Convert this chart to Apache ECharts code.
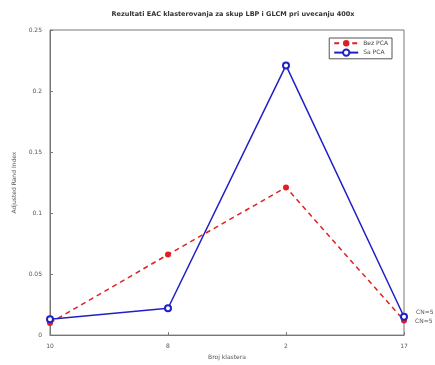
<!DOCTYPE html>
<html>
<head>
<meta charset="utf-8">
<script src="https://cdn.jsdelivr.net/npm/echarts@6/dist/echarts.min.js"></script>
<style>
  html, body { margin: 0; padding: 0; background: #fff; }
  #main { width: 435px; height: 365px; }
</style>
</head>
<body>
<div id="main"></div>
<script>
var categories = ["10", "8", "2", "17"];
var bezPCA = [0.010, 0.066, 0.121, 0.012];
var saPCA = [0.013, 0.022, 0.221, 0.015];
var endLabels = ["CN=5", "CN=5"];

var chartDom = document.getElementById("main");
var myChart = echarts.init(chartDom);
var option;

var axisText = { color: "#555", fontSize: 6, fontFamily: "DejaVu Sans" };

function withEndLabel(values, text, offsetY) {
  return values.map(function (v, i) {
    if (i !== values.length - 1) return v;
    return {
      value: v,
      label: {
        show: true,
        position: "right",
        distance: 8,
        offset: [0, offsetY],
        formatter: text,
        color: "#555",
        fontSize: 6,
        fontFamily: "DejaVu Sans",
      },
    };
  });
}

option = {
  animation: false,
  backgroundColor: "#fff",
  title: {
    text: "Rezultati EAC klasterovanja za skup LBP i GLCM pri uvecanju 400x",
    left: 228,
    textAlign: "center",
    top: 6,
    textStyle: {
      color: "#333",
      fontSize: 6.5,
      fontWeight: "bold",
      fontFamily: "DejaVu Sans",
    },
  },
  grid: {
    left: 50,
    right: 31,
    top: 30,
    bottom: 28,
    show: true,
    borderColor: "#777",
    borderWidth: 1,
  },
  legend: {
    right: 43,
    top: 38,
    orient: "vertical",
    itemGap: 2,
    itemWidth: 24,
    itemHeight: 8,
    padding: [2, 4],
    borderColor: "#555",
    borderWidth: 1,
    backgroundColor: "#fff",
    textStyle: { color: "#444", fontSize: 6, fontFamily: "DejaVu Sans" },
    data: ["Bez PCA", "Sa PCA"],
  },
  xAxis: {
    type: "category",
    data: categories,
    boundaryGap: false,
    name: "Broj klastera",
    nameLocation: "middle",
    nameGap: 16,
    nameTextStyle: axisText,
    axisLine: { lineStyle: { color: "#777" } },
    axisTick: { inside: true, length: 3, lineStyle: { color: "#777" } },
    axisLabel: axisText,
    splitLine: { show: false },
  },
  yAxis: {
    type: "value",
    min: 0,
    max: 0.25,
    interval: 0.05,
    name: "Adjusted Rand Index",
    nameLocation: "middle",
    nameGap: 23,
    nameTextStyle: axisText,
    axisLine: { show: true, lineStyle: { color: "#777" } },
    axisTick: { show: true, inside: true, length: 3, lineStyle: { color: "#777" } },
    axisLabel: axisText,
    splitLine: { show: false },
  },
  series: [
    {
      name: "Bez PCA",
      type: "line",
      data: withEndLabel(bezPCA, endLabels[1], 1),
      symbol: "circle",
      symbolSize: 6,
      itemStyle: { color: "#e02020" },
      lineStyle: { color: "#e02020", width: 1.5, type: [5, 4] },
      z: 2,
    },
    {
      name: "Sa PCA",
      type: "line",
      data: withEndLabel(saPCA, endLabels[0], -4),
      symbol: "emptyCircle",
      symbolSize: 6,
      itemStyle: { color: "#2020c8", borderWidth: 1.5 },
      lineStyle: { color: "#2020c8", width: 1.5 },
      z: 3,
    },
  ],
};

option && myChart.setOption(option);
window.addEventListener("resize", function () {
  myChart.resize();
});
</script>
</body>
</html>
